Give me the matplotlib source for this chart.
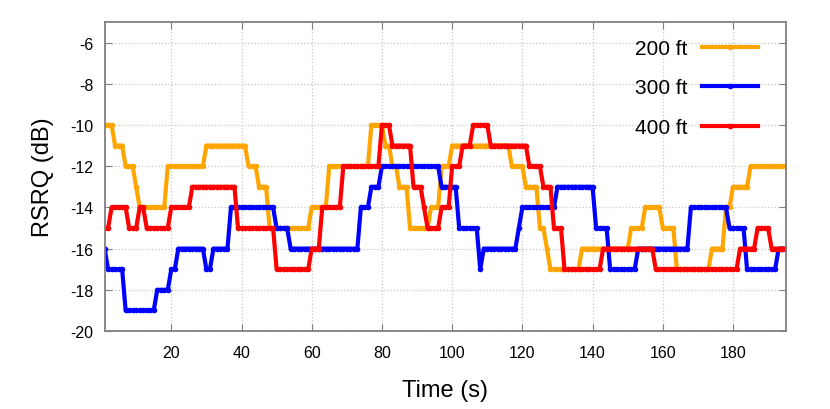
import numpy as np
import matplotlib
matplotlib.use("Agg")
import matplotlib.pyplot as plt

plt.rcParams["font.family"] = ["Liberation Sans", "DejaVu Sans"]
plt.rcParams["axes.unicode_minus"] = False

# Time axis (s)
time_s = np.arange(1, 196)

# RSRQ (dB), one value per second
rsrq_200ft = [
    -10, -10, -10, -11, -11, -11, -12, -12, -12, -13,
    -14, -14, -14, -14, -14, -14, -14, -14, -12, -12,
    -12, -12, -12, -12, -12, -12, -12, -12, -12, -11,
    -11, -11, -11, -11, -11, -11, -11, -11, -11, -11,
    -11, -12, -12, -12, -13, -13, -13, -15, -15, -15,
    -15, -15, -15, -15, -15, -15, -15, -15, -15, -14,
    -14, -14, -14, -14, -12, -12, -12, -12, -12, -12,
    -12, -12, -12, -12, -12, -12, -10, -10, -10, -10,
    -11, -11, -12, -12, -13, -13, -13, -15, -15, -15,
    -15, -15, -15, -14, -14, -14, -12, -12, -12, -11,
    -11, -11, -11, -11, -11, -11, -11, -11, -11, -11,
    -11, -11, -11, -11, -11, -11, -12, -12, -12, -12,
    -13, -13, -13, -13, -15, -15, -16, -17, -17, -17,
    -17, -17, -17, -17, -17, -17, -16, -16, -16, -16,
    -16, -16, -16, -16, -16, -16, -16, -16, -16, -16,
    -15, -15, -15, -15, -14, -14, -14, -14, -14, -15,
    -15, -15, -15, -17, -17, -17, -17, -17, -17, -17,
    -17, -17, -17, -16, -16, -16, -16, -14, -14, -13,
    -13, -13, -13, -13, -12, -12, -12, -12, -12, -12,
    -12, -12, -12, -12, -12,
]

rsrq_300ft = [
    -16, -17, -17, -17, -17, -17, -19, -19, -19, -19,
    -19, -19, -19, -19, -19, -18, -18, -18, -18, -17,
    -17, -16, -16, -16, -16, -16, -16, -16, -16, -17,
    -17, -16, -16, -16, -16, -16, -14, -14, -14, -14,
    -14, -14, -14, -14, -14, -14, -14, -14, -14, -15,
    -15, -15, -15, -16, -16, -16, -16, -16, -16, -16,
    -16, -16, -16, -16, -16, -16, -16, -16, -16, -16,
    -16, -16, -16, -14, -14, -14, -13, -13, -13, -12,
    -12, -12, -12, -12, -12, -12, -12, -12, -12, -12,
    -12, -12, -12, -12, -12, -12, -13, -13, -13, -13,
    -13, -15, -15, -15, -15, -15, -15, -17, -16, -16,
    -16, -16, -16, -16, -16, -16, -16, -16, -15, -14,
    -14, -14, -14, -14, -14, -14, -14, -14, -14, -13,
    -13, -13, -13, -13, -13, -13, -13, -13, -13, -13,
    -15, -15, -15, -15, -17, -17, -17, -17, -17, -17,
    -17, -17, -16, -16, -16, -16, -16, -16, -16, -16,
    -16, -16, -16, -16, -16, -16, -16, -14, -14, -14,
    -14, -14, -14, -14, -14, -14, -14, -14, -15, -15,
    -15, -15, -15, -17, -17, -17, -17, -17, -17, -17,
    -17, -17, -16, -16, -16,
]

rsrq_400ft = [
    -15, -15, -14, -14, -14, -14, -14, -15, -15, -15,
    -14, -14, -15, -15, -15, -15, -15, -15, -15, -14,
    -14, -14, -14, -14, -14, -13, -13, -13, -13, -13,
    -13, -13, -13, -13, -13, -13, -13, -13, -15, -15,
    -15, -15, -15, -15, -15, -15, -15, -15, -15, -17,
    -17, -17, -17, -17, -17, -17, -17, -17, -17, -16,
    -16, -16, -14, -14, -14, -14, -14, -14, -12, -12,
    -12, -12, -12, -12, -12, -12, -12, -12, -12, -10,
    -10, -10, -11, -11, -11, -11, -11, -11, -13, -13,
    -13, -14, -15, -15, -15, -15, -14, -14, -14, -12,
    -12, -12, -11, -11, -11, -10, -10, -10, -10, -10,
    -11, -11, -11, -11, -11, -11, -11, -11, -11, -11,
    -11, -12, -12, -12, -12, -13, -13, -13, -15, -15,
    -15, -17, -17, -17, -17, -17, -17, -17, -17, -17,
    -17, -17, -16, -16, -16, -16, -16, -16, -16, -16,
    -16, -16, -16, -16, -16, -16, -16, -17, -17, -17,
    -17, -17, -17, -17, -17, -17, -17, -17, -17, -17,
    -17, -17, -17, -17, -17, -17, -17, -17, -17, -17,
    -17, -16, -16, -16, -16, -16, -15, -15, -15, -15,
    -16, -16, -16, -16, -16,
]

series_labels = ["200 ft", "300 ft", "400 ft"]
series_colors = ["#FFA500", "#0000FF", "#FF0000"]

fig = plt.figure(figsize=(8.3, 4.1), dpi=100)
ax = fig.add_axes([0.126, 0.19, 0.8206, 0.754])

for values, label, color in zip([rsrq_200ft, rsrq_300ft, rsrq_400ft],
                                series_labels, series_colors):
    ax.plot(time_s, values, color=color, linewidth=3, marker="o",
            markersize=3, label=label)

ax.set_xlim(1, 195)
ax.set_ylim(-20, -5)
ax.set_xticks(np.arange(20, 181, 20))
ax.set_yticks(np.arange(-20, -5, 2))
ax.grid(True, color="#c8c8c8", linestyle=":", linewidth=0.9)
ax.tick_params(direction="in", top=True, right=True, labelsize=11.5,
               length=5, color="#808080")
ax.tick_params(axis="x", pad=10)
ax.tick_params(axis="y", pad=8)
for spine in ax.spines.values():
    spine.set_color("#808080")
    spine.set_linewidth(1.3)

ax.set_xlabel("Time (s)", fontsize=17, labelpad=14)
ax.set_ylabel("RSRQ (dB)", fontsize=17, labelpad=12)

ax.legend(loc="upper right", bbox_to_anchor=(0.96, 0.945), frameon=False,
          markerfirst=False, fontsize=15, handlelength=2.7,
          handletextpad=0.7, labelspacing=0.98, borderpad=0,
          borderaxespad=0, numpoints=1)

fig.savefig("out.png", dpi=100)
